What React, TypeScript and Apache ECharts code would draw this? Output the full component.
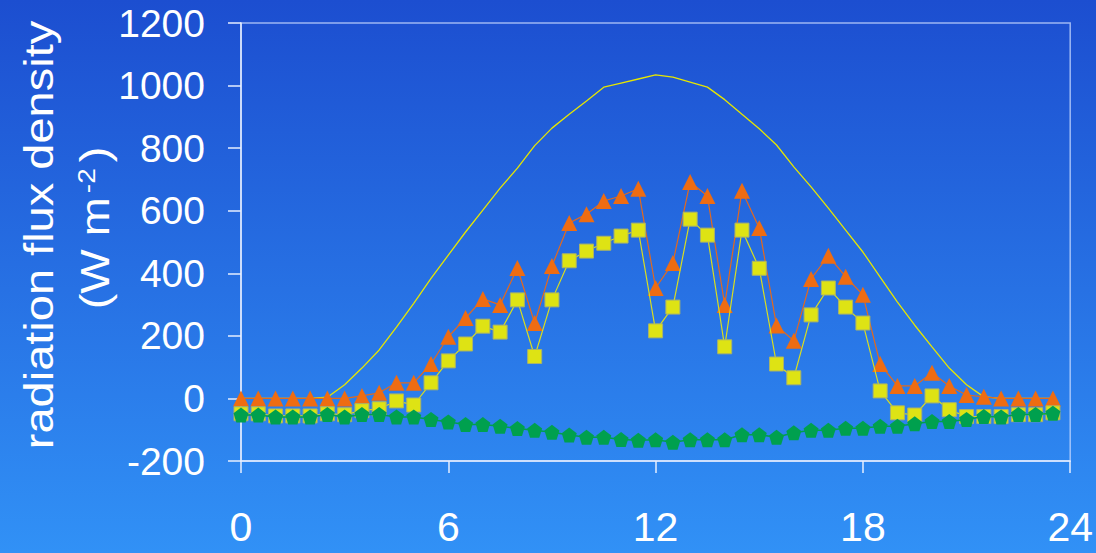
import React, { useEffect, useRef } from "react";
import * as echarts from "echarts";

const hours = [
  0, 0.5, 1, 1.5, 2, 2.5, 3, 3.5, 4, 4.5, 5, 5.5, 6, 6.5, 7, 7.5, 8, 8.5, 9, 9.5,
  10, 10.5, 11, 11.5, 12, 12.5, 13, 13.5, 14, 14.5, 15, 15.5, 16, 16.5, 17, 17.5,
  18, 18.5, 19, 19.5, 20, 20.5, 21, 21.5, 22, 22.5, 23, 23.5,
];

// potential (clear-sky) radiation – thin yellow line
const potential = [
  0, 0, 0, 0, 0, 4, 44, 97, 155, 228, 304, 384, 458, 532, 602, 672, 736, 808, 864, 908,
  951, 995, 1008, 1021, 1034, 1027, 1011, 995, 955, 908, 862, 810, 740, 676, 608, 538,
  468, 388, 308, 234, 165, 97, 44, 5, 0, 0, 0, 0,
];

// global radiation – orange triangles
const globalRad = [
  0, 0, 0, 0, 0, 0, 0, 8, 18, 50, 50, 110, 197, 257, 318, 299, 417, 241, 423, 561,
  589, 631, 647, 670, 353, 433, 692, 647, 299, 664, 545, 233, 184, 382, 456, 389,
  331, 110, 40, 40, 82, 40, 11, 5, 0, 0, 0, 0,
];

// net radiation – yellow squares
const netRad = [
  -49, -49, -56, -56, -56, -49, -52, -39, -33, -8, -21, 50, 120, 174, 231, 212, 315, 134, 315, 440,
  471, 496, 519, 538, 216, 292, 573, 522, 165, 538, 416, 110, 66, 267, 353, 292,
  241, 24, -46, -53, 8, -36, -58, -58, -58, -52, -52, -46,
];

// net longwave radiation – green pentagons
const longwave = [
  -53, -53, -59, -59, -59, -51, -59, -51, -51, -59, -59, -67, -75, -83, -83, -89, -96, -102, -108, -117,
  -124, -124, -131, -134, -132, -140, -132, -132, -132, -116, -116, -124, -110, -102, -102, -95,
  -95, -89, -89, -81, -74, -74, -67, -58, -59, -51, -51, -47,
];

const xTicks = { min: 0, max: 24, interval: 6 };
const yTicks = { min: -200, max: 1200, interval: 200 };

const pair = (vals: number[]) => hours.map((h, i) => [h, vals[i]]);

const PENTAGON = "path://M0,-10 L9.51,-3.09 L5.88,8.09 L-5.88,8.09 L-9.51,-3.09 Z";

export default function App() {
  const ref = useRef<HTMLDivElement>(null);

  useEffect(() => {
    if (!ref.current) return;
    const chart = echarts.init(ref.current, undefined, { renderer: "svg" });
    const axisColor = "#E6EEFF";
    const labelFont = '"Liberation Sans Narrow", "Liberation Sans", Arial, sans-serif';
    chart.setOption({
      animation: false,
      backgroundColor: {
        type: "linear",
        x: 0,
        y: 0,
        x2: 0,
        y2: 1,
        colorStops: [
          { offset: 0, color: "#1C4ED0" },
          { offset: 1, color: "#3191F6" },
        ],
      },
      grid: {
        left: 241,
        right: 25,
        top: 23,
        bottom: 92,
        show: true,
        borderColor: "rgba(200,218,255,0.75)",
        borderWidth: 1.5,
        backgroundColor: "transparent",
      },
      xAxis: {
        type: "value",
        min: xTicks.min,
        max: xTicks.max,
        interval: xTicks.interval,
        axisLine: { show: true, onZero: false, lineStyle: { color: axisColor, width: 1.5 } },
        axisTick: { show: true, length: 12, lineStyle: { color: axisColor, width: 1.5 } },
        axisLabel: {
          color: "#FFFFFF",
          fontSize: 41,
          fontFamily: labelFont,
          margin: 66,
          verticalAlign: "middle",
          formatter: (v: number) => String(v),
        },
        splitLine: { show: false },
      },
      yAxis: {
        type: "value",
        min: yTicks.min,
        max: yTicks.max,
        interval: yTicks.interval,
        axisLine: { show: true, lineStyle: { color: axisColor, width: 1.5 } },
        axisTick: { show: true, length: 13, lineStyle: { color: axisColor, width: 1.5 } },
        axisLabel: {
          color: "#FFFFFF",
          fontSize: 39,
          fontFamily: labelFont,
          margin: 36,
          formatter: (v: number) => String(v),
        },
        splitLine: { show: false },
      },
      graphic: [
        {
          type: "text",
          x: 39,
          y: 235,
          rotation: Math.PI / 2,
          scaleY: 0.87,
          style: {
            text: "radiation flux density",
            fill: "#FFFFFF",
            font: '47px "Liberation Sans", Arial, sans-serif',
            align: "center",
            verticalAlign: "middle",
          },
        },
        {
          type: "text",
          x: 95,
          y: 228,
          rotation: Math.PI / 2,
          scaleY: 0.87,
          style: {
            text: "(W m{sup|-2})",
            fill: "#FFFFFF",
            font: '47px "Liberation Sans", Arial, sans-serif',
            align: "center",
            verticalAlign: "middle",
            rich: {
              sup: {
                fill: "#FFFFFF",
                fontSize: 28,
                fontFamily: '"Liberation Sans", Arial, sans-serif',
                verticalAlign: "top",
                padding: [0, 6, 18, 4],
              },
            },
          },
        },
      ],
      series: [
        {
          type: "line",
          data: pair(potential),
          showSymbol: false,
          symbol: "none",
          lineStyle: { color: "#E6E600", width: 1.3 },
          z: 2,
        },
        {
          type: "line",
          data: pair(globalRad),
          symbol: "triangle",
          symbolSize: [16, 16],
          itemStyle: { color: "#EE6C12" },
          lineStyle: { color: "#E2691E", width: 1.2 },
          z: 3,
        },
        {
          type: "line",
          data: pair(netRad),
          symbol: "rect",
          symbolSize: 14,
          itemStyle: { color: "#DEE314", borderColor: "#A9B36A", borderWidth: 1 },
          lineStyle: { color: "#D8DC20", width: 1.2 },
          z: 4,
        },
        {
          type: "line",
          data: pair(longwave),
          symbol: PENTAGON,
          symbolSize: 15,
          itemStyle: { color: "#00A04E" },
          lineStyle: { color: "#00A04E", width: 1.5 },
          z: 5,
        },
      ],
    });
    return () => chart.dispose();
  }, []);

  return (
    <div
      ref={ref}
      style={{ position: "fixed", left: 0, top: 0, width: 1096, height: 553 }}
    />
  );
}
